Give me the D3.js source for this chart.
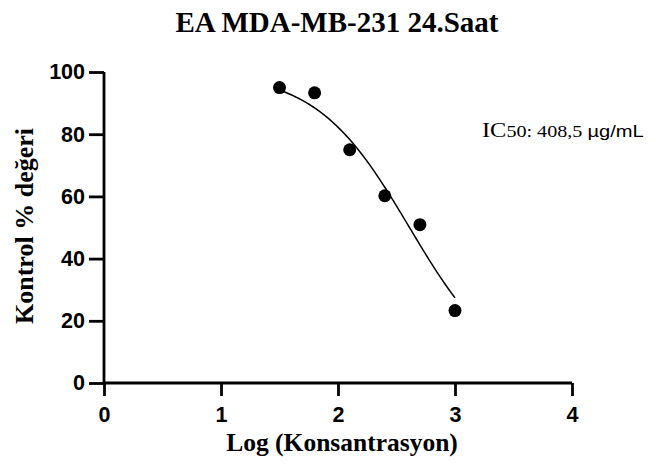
<!DOCTYPE html>
<html><head><meta charset="utf-8">
<script src="https://cdn.jsdelivr.net/npm/d3@7"></script>
<style>html,body{margin:0;padding:0;background:#fff;}svg{display:block;}</style>
</head><body>
<script>
const logConc = [1.5, 1.8, 2.1, 2.4, 2.7, 3.0];
const controlPct = [95, 93.3, 75, 60.2, 50.9, 23.3];
// fitted curve parameters: [bottom, top, logIC50, hillSlope]
const fitParams = [0, 100, 2.611, 1.09];
const fitRange = [1.5, 3.0];
const xTicks = [0, 1, 2, 3, 4];
const yTicks = [0, 20, 40, 60, 80, 100];

(function () {
const W = 656, H = 474;
const svg = d3.select("body").append("svg").attr("width", W).attr("height", H);
const x = d3.scaleLinear().domain([0, 4]).range([104, 572]);
const y = d3.scaleLinear().domain([0, 100]).range([383, 72]);
const serif = "'Liberation Serif','Times New Roman',serif";
const sans = "'Liberation Sans',Arial,sans-serif";

svg.append("text").attr("x", 337).attr("y", 32).attr("text-anchor", "middle")
  .style("font-family", serif).style("font-weight", "bold")
  .style("font-size", "29px").text("EA MDA-MB-231 24.Saat");

const xa = svg.append("g").attr("transform", "translate(0,383)")
  .call(d3.axisBottom(x).tickValues(xTicks).tickFormat(d3.format("d")).tickSize(13).tickPadding(11));
const ya = svg.append("g").attr("transform", "translate(104,0)")
  .call(d3.axisLeft(y).tickValues(yTicks).tickFormat(d3.format("d")).tickSize(15).tickPadding(4));
[xa, ya].forEach(a => {
  a.select(".domain").attr("stroke", "#000").attr("stroke-width", 2.8);
  a.selectAll(".tick line").attr("stroke", "#000").attr("stroke-width", 2.8);
  a.selectAll(".tick text").attr("fill", "#000")
    .style("font-family", sans).style("font-weight", "bold").style("font-size", "21.5px");
});
xa.select(".domain").attr("d", `M${x(0)},0H${x(4)}`);
ya.select(".domain").attr("d", `M0,${y(0)}V${y(100)}`);

const [pBot, pTop, pLogIC, pHill] = fitParams;
const f = v => pBot + (pTop - pBot) / (1 + Math.pow(10, (v - pLogIC) * pHill));
const curveX = d3.range(0, 101).map(i => fitRange[0] + (fitRange[1] - fitRange[0]) * i / 100);
svg.append("path").datum(curveX)
  .attr("d", d3.line().x(d => x(d)).y(d => y(f(d))))
  .attr("fill", "none").attr("stroke", "#000").attr("stroke-width", 1.5);

svg.selectAll("circle.pt").data(logConc).enter().append("circle")
  .attr("cx", d => x(d)).attr("cy", (d, i) => y(controlPct[i])).attr("r", 6.5).attr("fill", "#000");

svg.append("text").attr("x", 342).attr("y", 451).attr("text-anchor", "middle")
  .style("font-family", serif).style("font-weight", "bold")
  .style("font-size", "25.5px").text("Log (Konsantrasyon)");
svg.append("text").attr("transform", "translate(33,226) rotate(-90)").attr("text-anchor", "middle")
  .style("font-family", serif).style("font-weight", "bold")
  .style("font-size", "26px").text("Kontrol % değeri");

const ic = svg.append("text").attr("transform", "translate(482,137) scale(1.22,1)")
  .style("font-family", serif).style("font-size", "20px");
ic.append("tspan").text("IC");
ic.append("tspan").style("font-size", "16.5px").text("50: 408,5 ");
ic.append("tspan").style("font-family", sans).style("font-size", "16.5px").text("µg/mL");
})();
</script>
</body></html>
